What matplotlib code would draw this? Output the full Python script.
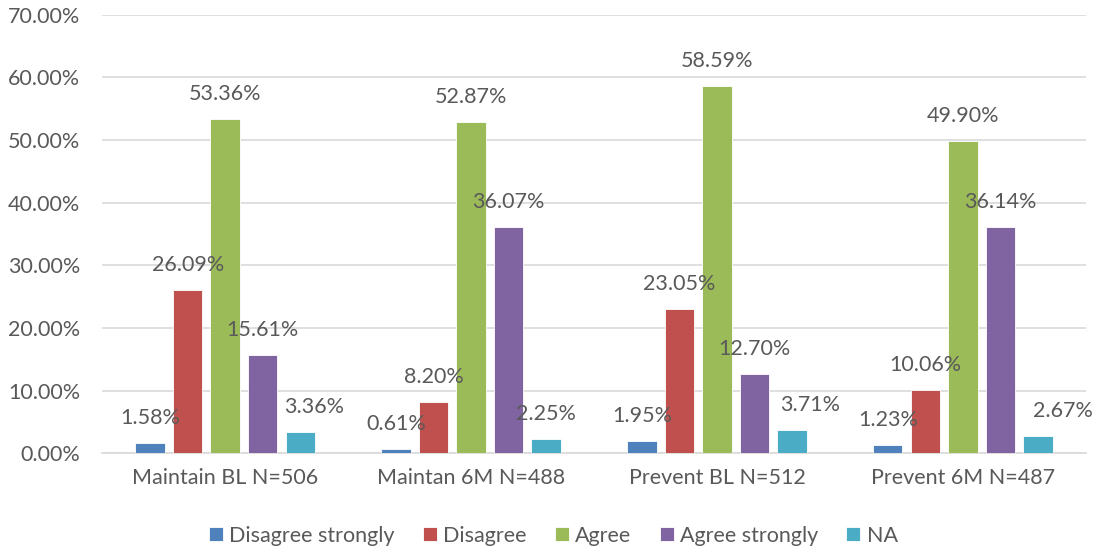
import matplotlib
matplotlib.use('Agg')
import matplotlib.pyplot as plt
import numpy as np

# survey groups and response shares (%)
groups = ['Maintain BL N=506', 'Maintan 6M N=488', 'Prevent BL N=512', 'Prevent 6M N=487']
responses = ['Disagree strongly', 'Disagree', 'Agree', 'Agree strongly', 'NA']
disagree_strongly = [1.58, 0.61, 1.95, 1.23]
disagree = [26.09, 8.20, 23.05, 10.06]
agree = [53.36, 52.87, 58.59, 49.90]
agree_strongly = [15.61, 36.07, 12.70, 36.14]
na = [3.36, 2.25, 3.71, 2.67]
series = [disagree_strongly, disagree, agree, agree_strongly, na]
colors = ['#4F81BD', '#C0504D', '#9BBB59', '#8064A2', '#4BACC6']

# horizontal nudges (points) for the NA labels so they clear the purple bars
na_label_dx = [10, 0, 13, 18]

plt.rcParams['font.family'] = ['Lato', 'DejaVu Sans']
text_col = '#595959'
fs = 15.5

fig = plt.figure(figsize=(11, 5.5), dpi=100)
ax = fig.add_axes([0.093, 0.176, 0.894, 0.797])

x = np.arange(len(groups))
step = 0.1526
width = 0.12
for i, (name, vals) in enumerate(zip(responses, series)):
    pos = x + (i - 2) * step
    ax.bar(pos, vals, width, color=colors[i], edgecolor='white', linewidth=0.6,
           label=name, zorder=3)
    for j, (px, v) in enumerate(zip(pos, vals)):
        dx = na_label_dx[j] if name == 'NA' else 0
        ax.annotate(f'{v:.2f}%', (px, v), xytext=(dx, 18), textcoords='offset points',
                    ha='center', va='center', fontsize=fs, color=text_col, zorder=6)

ax.set_ylim(0, 70)
ax.set_xlim(-0.5, len(groups) - 0.5)
ax.set_yticks(np.arange(0, 71, 10))
ax.set_yticklabels([f'{t:.2f}%' for t in np.arange(0, 71, 10)])
ax.set_xticks(x)
ax.set_xticklabels(groups)
ax.tick_params(axis='both', length=0, labelsize=fs, colors=text_col)
ax.tick_params(axis='x', pad=11)
ax.tick_params(axis='y', pad=16)
ax.grid(axis='y', color='#D9D9D9', linewidth=1.2, zorder=0)
for s in ['top', 'right', 'left']:
    ax.spines[s].set_visible(False)
ax.spines['bottom'].set_color('#D9D9D9')
ax.spines['bottom'].set_linewidth(1.2)

handles, labels = ax.get_legend_handles_labels()
fig.legend(handles, labels, loc='center', bbox_to_anchor=(0.503, 0.026), ncol=5,
           frameon=False, fontsize=fs, labelcolor=text_col, handlelength=0.65,
           handleheight=0.65, handletextpad=0.3, columnspacing=1.3)

plt.savefig('out.png', dpi=100)
